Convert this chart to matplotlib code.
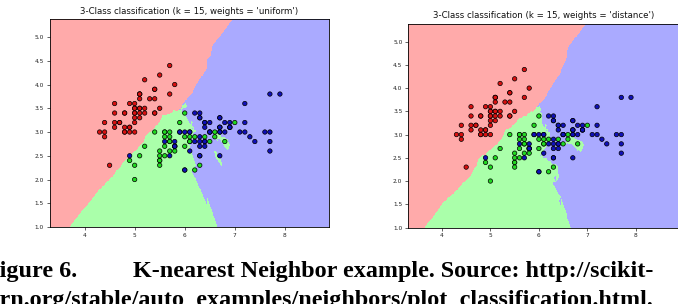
import numpy as np
import matplotlib
matplotlib.use("Agg")
import matplotlib.pyplot as plt
from matplotlib.colors import ListedColormap

# Iris data: sepal length, sepal width
setosa_len = [5.1,4.9,4.7,4.6,5.0,5.4,4.6,5.0,4.4,4.9,5.4,4.8,4.8,4.3,5.8,5.7,5.4,5.1,5.7,5.1,
              5.4,5.1,4.6,5.1,4.8,5.0,5.0,5.2,5.2,4.7,4.8,5.4,5.2,5.5,4.9,5.0,5.5,4.9,4.4,5.1,
              5.0,4.5,4.4,5.0,5.1,4.8,5.1,4.6,5.3,5.0]
setosa_wid = [3.5,3.0,3.2,3.1,3.6,3.9,3.4,3.4,2.9,3.1,3.7,3.4,3.0,3.0,4.0,4.4,3.9,3.5,3.8,3.8,
              3.4,3.7,3.6,3.3,3.4,3.0,3.4,3.5,3.4,3.2,3.1,3.4,4.1,4.2,3.1,3.2,3.5,3.6,3.0,3.4,
              3.5,2.3,3.2,3.5,3.8,3.0,3.8,3.2,3.7,3.3]
versi_len = [7.0,6.4,6.9,5.5,6.5,5.7,6.3,4.9,6.6,5.2,5.0,5.9,6.0,6.1,5.6,6.7,5.6,5.8,6.2,5.6,
             5.9,6.1,6.3,6.1,6.4,6.6,6.8,6.7,6.0,5.7,5.5,5.5,5.8,6.0,5.4,6.0,6.7,6.3,5.6,5.5,
             5.5,6.1,5.8,5.0,5.6,5.7,5.7,6.2,5.1,5.7]
versi_wid = [3.2,3.2,3.1,2.3,2.8,2.8,3.3,2.4,2.9,2.7,2.0,3.0,2.2,2.9,2.9,3.1,3.0,2.7,2.2,2.5,
             3.2,2.8,2.5,2.8,2.9,3.0,2.8,3.0,2.9,2.6,2.4,2.4,2.7,2.7,3.0,3.4,3.1,2.3,3.0,2.5,
             2.6,3.0,2.6,2.3,2.7,3.0,2.9,2.9,2.5,2.8]
virgin_len = [6.3,5.8,7.1,6.3,6.5,7.6,4.9,7.3,6.7,7.2,6.5,6.4,6.8,5.7,5.8,6.4,6.5,7.7,7.7,6.0,
              6.9,5.6,7.7,6.3,6.7,7.2,6.2,6.1,6.4,7.2,7.4,7.9,6.4,6.3,6.1,7.7,6.3,6.4,6.0,6.9,
              6.7,6.9,5.8,6.8,6.7,6.7,6.3,6.5,6.2,5.9]
virgin_wid = [3.3,2.7,3.0,2.9,3.0,3.0,2.5,2.9,2.5,3.6,3.2,2.7,3.0,2.5,2.8,3.2,3.0,3.8,2.6,2.2,
              3.2,2.8,2.8,2.7,3.3,3.2,2.8,3.0,2.8,3.0,2.8,3.8,2.8,2.8,2.6,3.0,3.4,3.1,3.0,3.1,
              3.1,3.1,2.7,3.2,3.3,3.0,2.5,3.0,3.4,3.0]

n_neighbors = 15
weight_modes = ["uniform", "distance"]
titles = ["3-Class classification (k = 15, weights = 'uniform')",
          "3-Class classification (k = 15, weights = 'distance')"]
caption_left = "Figure 6."
caption_mid = "K-nearest Neighbor example. Source: http://scikit-"
caption_line2 = "learn.org/stable/auto_examples/neighbors/plot_classification.html."

X = np.column_stack([setosa_len + versi_len + virgin_len,
                     setosa_wid + versi_wid + virgin_wid])
y = np.array([0] * 50 + [1] * 50 + [2] * 50)

cmap_light = ListedColormap(['#FFAAAA', '#AAFFAA', '#AAAAFF'])
cmap_bold = ListedColormap(['#D81010', '#20D820', '#1010B8'])

h = 0.02
x_min, x_max = X[:, 0].min() - 1, X[:, 0].max() + 1
y_min, y_max = X[:, 1].min() - 1, X[:, 1].max() + 1
xx, yy = np.meshgrid(np.arange(x_min, x_max, h), np.arange(y_min, y_max, h))
grid = np.c_[xx.ravel(), yy.ravel()]


def knn_predict(P, weights):
    d = np.sqrt(((P[:, None, :] - X[None, :, :]) ** 2).sum(-1))
    idx = np.argsort(d, axis=1, kind="stable")[:, :n_neighbors]
    dn = np.take_along_axis(d, idx, axis=1)
    lab = y[idx]
    if weights == "uniform":
        w = np.ones_like(dn)
    else:
        with np.errstate(divide="ignore"):
            w = 1.0 / dn
        zero = dn < 1e-10
        rows = zero.any(axis=1)
        w[rows] = zero[rows].astype(float)
    scores = np.zeros((P.shape[0], 3))
    for c in range(3):
        scores[:, c] = (w * (lab == c)).sum(axis=1)
    return scores.argmax(axis=1)


fig = plt.figure(figsize=(6.78, 3.04), dpi=100)
W, H = 678.0, 304.0
axes_px = [(49.5, 329.0, 19.0, 227.0), (408.0, 678.5, 24.0, 227.5)]
title_y = [11.0, 16.0]

for i, (wm, (x0, x1, t, b)) in enumerate(zip(weight_modes, axes_px)):
    ax = fig.add_axes([x0 / W, (H - b) / H, (x1 - x0) / W, (b - t) / H])
    Z = knn_predict(grid, wm).reshape(xx.shape)
    ax.pcolormesh(xx, yy, Z, cmap=cmap_light, shading="auto", rasterized=True)
    ax.scatter(X[:, 0], X[:, 1], c=y, cmap=cmap_bold, edgecolor='k', s=10, linewidths=0.5)
    ax.set_xlim(xx.min(), xx.max())
    ax.set_ylim(yy.min(), yy.max())
    ax.set_xticks([4, 5, 6, 7, 8])
    ax.set_yticks([1.0, 1.5, 2.0, 2.5, 3.0, 3.5, 4.0, 4.5, 5.0])
    ax.set_yticklabels(["1.0", "1.5", "2.0", "2.5", "3.0", "3.5", "4.0", "4.5", "5.0"])
    ax.tick_params(labelsize=4.2, length=2.5, width=0.5, pad=1.5, colors='#222222')
    for s in ax.spines.values():
        s.set_linewidth(0.6)
    fig.text((x0 + x1) / 2 / W, (H - title_y[i]) / H, titles[i], ha='center', va='center',
             fontsize=6.2, color='#111111')

cap_font = dict(family=['Liberation Serif', 'DejaVu Serif'], fontweight='bold', fontsize=17.4)
fig.text(77 / W, (H - 277.5) / H, caption_left, ha='right', va='baseline', **cap_font)
fig.text(133 / W, (H - 277.5) / H, caption_mid, ha='left', va='baseline', **cap_font)
fig.text(653 / W, (H - 306) / H, caption_line2, ha='right', va='baseline', **cap_font)

fig.savefig("out.png", dpi=100)
